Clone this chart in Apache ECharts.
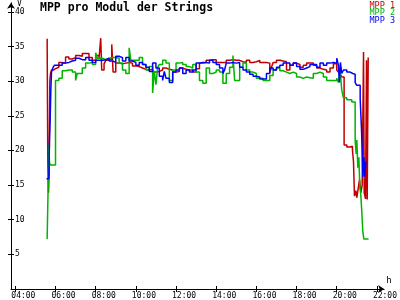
<!DOCTYPE html>
<html><head><meta charset="utf-8">
<script src="https://cdn.jsdelivr.net/npm/echarts@6/dist/echarts.min.js"></script>
<style>html,body{margin:0;padding:0;background:#fff}#c{width:400px;height:300px}</style>
</head><body><div id="c"></div>
<script>
const seriesNames = ["MPP 1","MPP 2","MPP 3"];
const xTicks = [4,6,8,10,12,14,16,18,20,22];
const yTicks = [5,10,15,20,25,30,35,40];

const mpp1 = [["05:35",36.1],["05:37",18.0],["05:39",13.9],["05:41",16.8],["05:43",30.0],["05:45",31.1],["05:48",31.6],["05:54",31.8],
["06:00",32.0],["06:10",32.7],["06:20",32.6],["06:30",33.5],["06:40",33.2],["06:50",33.4],["07:00",33.7],["07:10",33.6],["07:20",34.0],["07:30",34.0],["07:40",33.4],["07:50",33.0],["08:00",33.7],["08:10",33.3],["08:15",36.2],["08:18",31.6],["08:25",32.5],["08:30",33.0],["08:40",33.2],["08:48",35.3],["08:52",31.3],["09:00",32.6],["09:10",32.5],["09:20",32.6],["09:30",32.7],["09:40",32.6],["09:50",32.2],["10:00",32.1],["10:10",31.9],["10:20",31.7],["10:30",31.6],["10:40",31.7],["10:50",31.3],["11:00",31.4],["11:10",31.6],["11:20",31.9],["11:30",31.7],["11:40",31.6],["11:50",31.3],["12:00",31.4],["12:10",31.9],["12:20",31.7],["12:30",31.6],["12:40",31.6],["12:50",31.3],["13:00",31.8],["13:10",32.6],["13:20",32.7],["13:30",33.0],["13:40",33.1],["13:50",33.1],["14:00",32.7],["14:10",32.7],["14:20",32.7],["14:30",33.0],["14:40",33.1],["14:50",33.0],["15:00",33.0],["15:10",32.8],["15:20",32.7],["15:30",33.0],["15:40",32.7],["15:50",32.8],["16:00",33.0],["16:10",32.7],["16:20",32.7],["16:30",32.6],["16:40",31.2],["16:45",32.0],["16:50",32.7],["17:00",33.0],["17:10",32.9],["17:20",32.8],["17:30",31.6],["17:40",32.3],["17:50",32.6],["18:00",32.4],["18:10",32.0],["18:20",32.3],["18:30",32.6],["18:40",32.6],["18:50",32.3],["19:00",31.9],["19:10",31.7],["19:20",31.6],["19:30",31.3],["19:40",31.9],["19:50",32.5],["20:00",31.6],["20:05",31.3],["20:10",31.0],["20:15",30.6],["20:22",20.8],["20:30",20.5],["20:40",20.6],["20:47",20.0],["20:50",18.4],["20:53",13.4],["20:57",14.2],["21:00",13.2],["21:04",14.5],["21:08",15.8],["21:12",13.9],["21:16",15.0],["21:20",34.2],["21:22",13.9],["21:26",13.0],["21:29",33.0],["21:31",12.9],["21:34",33.4],["21:36",33.4]];

const mpp2 = [["05:35",7.2],["05:38",14.8],["05:40",20.8],["05:42",18.2],["05:45",17.9],["06:00",30.1],["06:10",30.4],["06:20",31.5],["06:30",31.6],["06:40",31.6],["06:50",31.3],["07:00",30.1],["07:05",31.1],["07:20",31.9],["07:30",32.6],["07:40",32.7],["07:50",32.4],["08:00",34.1],["08:05",33.3],["08:20",33.1],["08:30",33.3],["08:40",33.4],["08:50",33.4],["09:00",33.3],["09:10",32.6],["09:20",31.6],["09:30",31.1],["09:40",34.8],["09:45",33.0],["10:00",33.0],["10:10",33.4],["10:20",32.4],["10:30",31.6],["10:40",32.1],["10:50",28.3],["10:55",31.5],["11:00",29.5],["11:05",32.0],["11:10",32.4],["11:20",33.0],["11:30",32.6],["11:40",30.1],["11:50",31.6],["12:00",32.6],["12:10",32.7],["12:20",32.4],["12:30",32.1],["12:40",31.9],["12:50",32.4],["13:00",31.3],["13:10",30.1],["13:20",29.7],["13:30",31.9],["13:40",31.1],["13:50",31.3],["14:00",31.6],["14:10",31.3],["14:20",29.7],["14:30",31.1],["14:40",32.0],["14:50",33.7],["14:55",30.1],["15:10",32.0],["15:20",32.6],["15:30",31.6],["15:40",31.3],["15:50",31.1],["16:00",30.4],["16:10",30.4],["16:20",30.1],["16:30",30.1],["16:40",30.8],["16:50",31.6],["17:00",31.9],["17:10",31.5],["17:20",31.3],["17:30",31.1],["17:40",31.3],["17:50",31.1],["18:00",30.6],["18:10",30.4],["18:20",30.6],["18:30",30.5],["18:40",30.4],["18:50",31.1],["19:00",31.3],["19:10",31.1],["19:20",30.6],["19:30",30.1],["19:40",30.1],["19:50",30.1],["20:00",30.4],["20:05",29.8],["20:10",31.6],["20:15",28.7],["20:20",27.6],["20:30",27.3],["20:45",27.0],["20:55",21.5],["20:58",19.5],["21:00",21.5],["21:03",17.5],["21:06",19.0],["21:09",14.8],["21:12",13.5],["21:15",11.0],["21:18",8.2],["21:21",7.2],["21:35",7.2]];

const mpp3 = [["05:33",15.9],["05:40",15.9],["05:42",21.5],["05:44",24.4],["05:46",28.7],["05:48",31.3],["05:52",31.9],["05:57",32.3],
["06:00",32.3],["06:10",32.3],["06:20",32.6],["06:30",32.7],["06:40",32.9],["06:50",33.0],["07:00",33.3],["07:10",33.1],["07:20",33.1],["07:30",33.4],["07:40",33.0],["07:50",32.7],["08:00",33.0],["08:10",33.0],["08:20",33.1],["08:30",33.3],["08:40",32.9],["08:50",32.7],["09:00",33.6],["09:10",33.4],["09:20",32.9],["09:30",33.4],["09:40",32.9],["09:50",32.7],["10:00",32.3],["10:10",32.7],["10:20",32.4],["10:30",32.0],["10:40",31.4],["10:50",32.6],["11:00",31.9],["11:10",30.7],["11:20",30.1],["11:25",31.4],["11:30",30.4],["11:40",29.8],["11:50",31.3],["12:00",31.6],["12:10",31.9],["12:20",31.1],["12:30",31.6],["12:40",31.3],["12:50",31.6],["13:00",32.6],["13:10",32.7],["13:20",32.7],["13:30",32.6],["13:40",33.0],["13:50",32.7],["14:00",32.4],["14:10",31.9],["14:20",31.1],["14:25",31.6],["14:30",32.6],["14:40",32.7],["14:50",32.6],["15:00",32.7],["15:10",32.0],["15:20",31.6],["15:30",31.3],["15:40",31.0],["15:50",30.7],["16:00",30.6],["16:10",30.3],["16:20",30.3],["16:30",31.1],["16:40",31.9],["16:50",31.6],["17:00",32.0],["17:10",32.3],["17:20",32.6],["17:30",32.6],["17:40",32.3],["17:50",32.6],["18:00",32.1],["18:10",31.7],["18:20",31.9],["18:30",32.1],["18:40",32.4],["18:50",32.4],["19:00",32.0],["19:10",32.6],["19:20",32.3],["19:30",32.6],["19:40",32.7],["19:50",32.6],["20:00",33.3],["20:05",32.3],["20:08",29.8],["20:11",32.7],["20:15",31.1],["20:20",31.6],["20:30",31.3],["20:40",31.1],["20:48",31.0],["20:55",29.8],["21:00",29.4],["21:10",27.5],["21:14",23.0],["21:18",16.2],["21:21",19.0],["21:24",16.2],["21:27",18.4],["21:29",18.4]];

const colors = ["#c00000","#00b400","#0000ff"];
const toH = t => { const p = t.split(":"); return +p[0] + (+p[1]) / 60; };
const conv = arr => arr.map(d => [toH(d[0]), d[1]]);
const FONT = "DejaVu Sans Mono";

const chart = echarts.init(document.getElementById("c"), null, {renderer: "canvas"});
const baseX = {type: "value", min: 3.784, max: 22.36, splitLine: {show: false}, position: "bottom"};
const baseY = {type: "value", min: 0, max: 41.3, splitLine: {show: false}, position: "left"};
chart.setOption({
  animation: false,
  backgroundColor: "#ffffff",
  title: {text: "MPP pro Modul der Strings", left: 40, top: 2, padding: 0,
    textStyle: {fontFamily: FONT, fontWeight: "bold", fontSize: 11.5, color: "#000"}},
  legend: {orient: "vertical", right: 5, top: 1, padding: 0, itemWidth: 0, itemHeight: 0, itemGap: -1.5,
    icon: "rect", selectedMode: false,
    data: seriesNames.map((n, i) => ({name: n, textStyle: {color: colors[i]}})),
    textStyle: {fontFamily: FONT, fontSize: 8.5, padding: 0}},
  grid: {left: 11, right: 2, top: 2, bottom: 10, containLabel: false},
  xAxis: [
    Object.assign({}, baseX, {
      name: "h", nameLocation: "end", nameGap: 2,
      nameTextStyle: {fontFamily: FONT, fontSize: 9, color: "#000", verticalAlign: "bottom", padding: [0, 0, 4, 0]},
      axisLine: {show: true, lineStyle: {color: "#000", width: 1}, symbol: ["none", "arrow"], symbolSize: [6, 6]},
      axisTick: {show: true, customValues: xTicks, length: 3, lineStyle: {color: "#000"}},
      axisLabel: {show: true, customValues: xTicks, margin: 3, align: "left", padding: [0, 0, 0, -4],
        fontFamily: FONT, fontSize: 8, color: "#000",
        formatter: v => (v < 10 ? "0" : "") + v + ":00"}
    }),
    Object.assign({}, baseX, {
      axisLine: {show: false},
      axisTick: {show: true, inside: true, customValues: xTicks, length: 3, lineStyle: {color: "#000"}},
      axisLabel: {show: false}
    })
  ],
  yAxis: [
    Object.assign({}, baseY, {
      name: "V", nameLocation: "end", nameGap: -6,
      nameTextStyle: {fontFamily: FONT, fontSize: 8, color: "#000", align: "left", padding: [0, 0, 0, 6]},
      axisLine: {show: true, lineStyle: {color: "#000", width: 1}, symbol: ["none", "arrow"], symbolSize: [6, 6]},
      axisTick: {show: true, customValues: yTicks, length: 3, lineStyle: {color: "#000"}},
      axisLabel: {show: true, inside: true, customValues: yTicks, margin: 4,
        fontFamily: FONT, fontSize: 8, color: "#000"}
    }),
    Object.assign({}, baseY, {
      axisLine: {show: false},
      axisTick: {show: true, inside: true, customValues: yTicks, length: 3, lineStyle: {color: "#000"}},
      axisLabel: {show: false}
    })
  ],
  series: [mpp1, mpp2, mpp3].map((d, i) => ({
    name: seriesNames[i], type: "line", step: "end", data: conv(d),
    showSymbol: false, symbol: "none", color: colors[i],
    lineStyle: {width: 1.5, color: colors[i]}, z: 2 + i
  }))
});
</script></body></html>
